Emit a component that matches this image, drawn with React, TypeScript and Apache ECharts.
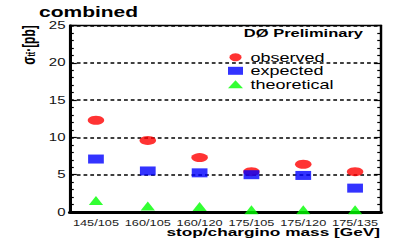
import React, { useEffect, useRef } from "react";
import * as echarts from "echarts";

const categories = ["145/105", "160/105", "160/120", "175/105", "175/120", "175/135"];
const observed = [12.3, 9.6, 7.3, 5.4, 6.4, 5.4];
const expected = [7.1, 5.5, 5.25, 5.0, 4.9, 3.2];
const theoretical = [1.55, 0.8, 0.75, 0.3, 0.3, 0.3];
const yTicks = { min: 0, max: 25, interval: 5 };

const FONT = "Liberation Sans, Arial, sans-serif";
const SX = 1.5; // horizontal stretch of the original figure

export default function App() {
  const ref = useRef<HTMLDivElement>(null);
  useEffect(() => {
    if (!ref.current) return;
    const chart = echarts.init(ref.current, undefined, { renderer: "svg" });
    const yCommon = {
      type: "value" as const,
      min: yTicks.min,
      max: yTicks.max,
      interval: yTicks.interval,
      minorTick: { show: true, splitNumber: 5, length: 2.5, lineStyle: { color: "#000", width: 1.2 } },
    };
    chart.setOption({
      animation: false,
      backgroundColor: "#fff",
      grid: {
        left: 46.7,
        right: 12,
        top: 25.5,
        bottom: 33,
        show: true,
        borderColor: "#000",
        borderWidth: 1.5,
        containLabel: false,
      },
      xAxis: {
        type: "category",
        data: categories,
        boundaryGap: true,
        axisLine: { lineStyle: { color: "#000", width: 3 } },
        axisTick: { show: false },
        splitLine: { show: false },
        axisLabel: { interval: 0, hideOverlap: false, fontSize: 8.5, color: "#222", fontFamily: FONT, margin: 6 },
      },
      yAxis: [
        {
          ...yCommon,
          position: "left",
          axisLine: { show: true, lineStyle: { color: "#000", width: 2 } },
          axisTick: { show: true, inside: true, length: 4.5, lineStyle: { color: "#000", width: 1.2 } },
          axisLabel: { fontSize: 10, color: "#111", fontFamily: FONT, margin: 3 },
          splitLine: { show: true, lineStyle: { color: "#000", width: 1.5, type: [2.5, 2] } },
        },
        {
          ...yCommon,
          position: "right",
          axisLine: { show: true, lineStyle: { color: "#000", width: 1.5 } },
          axisTick: { show: true, inside: true, length: 4.5, lineStyle: { color: "#000", width: 1.2 } },
          axisLabel: { show: false },
          splitLine: { show: false },
        },
      ],
      legend: {
        orient: "vertical",
        left: 152,
        top: 51.3,
        padding: 0,
        itemWidth: 10,
        itemHeight: 8,
        itemGap: 1.5,
        textStyle: { fontSize: 12, color: "#000", fontFamily: FONT },
        data: ["observed", "expected", "theoretical"],
      },
      series: [
        {
          name: "observed",
          type: "scatter",
          data: observed,
          symbol: "circle",
          symbolSize: [11, 9],
          itemStyle: { color: "#ff0000" },
        },
        {
          name: "expected",
          type: "scatter",
          data: expected,
          symbol: "rect",
          symbolSize: [10.5, 9],
          itemStyle: { color: "#0000ff" },
        },
        {
          name: "theoretical",
          type: "scatter",
          data: theoretical,
          symbol: "triangle",
          symbolSize: [9.5, 9],
          itemStyle: { color: "#00ff00" },
        },
      ],
      graphic: [
        {
          type: "text",
          x: 26,
          y: 12,
          style: { text: "combined", font: `bold 14px ${FONT}`, fill: "#000", verticalAlign: "middle", align: "left" },
        },
        {
          type: "text",
          x: 242,
          y: 33,
          style: { text: "DØ Preliminary", font: `bold 11px ${FONT}`, fill: "#000", verticalAlign: "middle", align: "right" },
        },
        {
          type: "text",
          x: 253.3,
          y: 232,
          style: {
            text: "stop/chargino mass [GeV]",
            font: `bold 11.5px ${FONT}`,
            fill: "#000",
            verticalAlign: "middle",
            align: "right",
          },
        },
        {
          type: "text",
          x: 18.7,
          y: 45,
          rotation: Math.PI / 2,
          style: {
            text: "{a|σ}{b|tt̄}{a|·[pb]}",
            align: "center",
            verticalAlign: "middle",
            fill: "#000",
            rich: {
              a: { fontSize: 12, fontFamily: FONT, fontWeight: "bold", fill: "#000", verticalAlign: "bottom" },
              b: { fontSize: 7, fontFamily: FONT, fontWeight: "bold", fill: "#000", verticalAlign: "bottom" },
            },
          },
        },
      ],
    });
    return () => chart.dispose();
  }, []);
  return (
    <div
      ref={ref}
      style={{
        position: "absolute",
        left: 0,
        top: 0,
        width: 399 / SX,
        height: 245,
        transform: `scaleX(${SX})`,
        transformOrigin: "0 0",
      }}
    />
  );
}
